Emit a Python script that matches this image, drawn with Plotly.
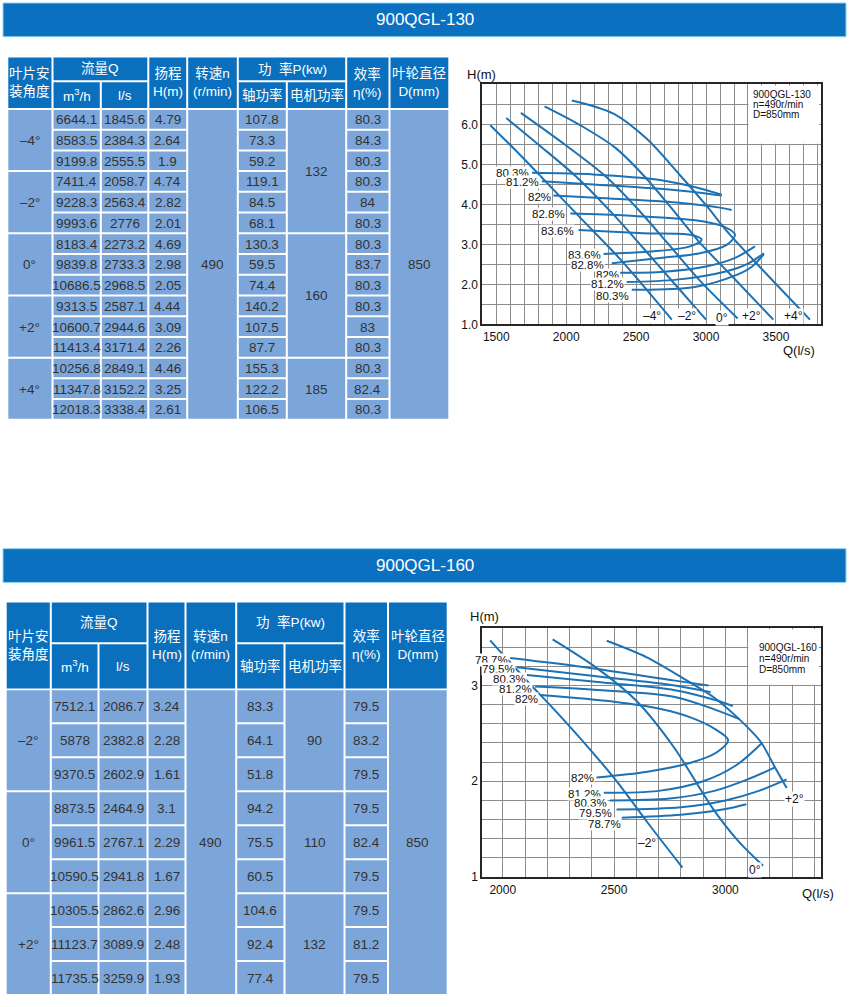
import plotly.graph_objects as go

FIG_W, FIG_H = 850, 1007

# ---------------- table data : 900QGL-130 ----------------
t1_title = "900QGL-130"
t1_angles = ["–4°", "–2°", "0°", "+2°", "+4°"]
t1_q_m3h = [6644.1, 8583.5, 9199.8, 7411.4, 9228.3, 9993.6, 8183.4, 9839.8, 10686.5,
            9313.5, 10600.7, 11413.4, 10256.8, 11347.8, 12018.3]
t1_q_ls = [1845.6, 2384.3, 2555.5, 2058.7, 2563.4, 2776, 2273.2, 2733.3, 2968.5,
           2587.1, 2944.6, 3171.4, 2849.1, 3152.2, 3338.4]
t1_head = [4.79, 2.64, 1.9, 4.74, 2.82, 2.01, 4.69, 2.98, 2.05, 4.44, 3.09, 2.26, 4.46, 3.25, 2.61]
t1_shaft = [107.8, 73.3, 59.2, 119.1, 84.5, 68.1, 130.3, 59.5, 74.4, 140.2, 107.5, 87.7, 155.3, 122.2, 106.5]
t1_motor = [132, 160, 185]
t1_motor_rows = [6, 6, 3]
t1_eff = [80.3, 84.3, 80.3, 80.3, 84, 80.3, 80.3, 83.7, 80.3, 80.3, 83, 80.3, 80.3, 82.4, 80.3]
t1_speed = 490
t1_diam = 850

# ---------------- table data : 900QGL-160 ----------------
t2_title = "900QGL-160"
t2_angles = ["–2°", "0°", "+2°"]
t2_q_m3h = [7512.1, 5878, 9370.5, 8873.5, 9961.5, 10590.5, 10305.5, 11123.7, 11735.5]
t2_q_ls = [2086.7, 2382.8, 2602.9, 2464.9, 2767.1, 2941.8, 2862.6, 3089.9, 3259.9]
t2_head = [3.24, 2.28, 1.61, 3.1, 2.29, 1.67, 2.96, 2.48, 1.93]
t2_shaft = [83.3, 64.1, 51.8, 94.2, 75.5, 60.5, 104.6, 92.4, 77.4]
t2_motor = [90, 110, 132]
t2_motor_rows = [3, 3, 3]
t2_eff = [79.5, 83.2, 79.5, 79.5, 82.4, 79.5, 79.5, 81.2, 79.5]
t2_speed = 490
t2_diam = 850

# header texts
hdr_angle = "叶片安<br>装角度"
hdr_flow = "流量Q"
hdr_m3h = "m<sup>3</sup>/h"
hdr_ls = "l/s"
hdr_head = "扬程<br>H(m)"
hdr_speed = "转速n<br>(r/min)"
hdr_power = "功\u00a0\u00a0率P(kw)"
hdr_shaft = "轴功率"
hdr_motor = "电机功率"
hdr_eff = "效率<br>η(%)"
hdr_diam = "叶轮直径<br>D(mm)"

# ---------------- chart 1 (900QGL-130) curves ----------------
c1_m4_q = [1457, 1650, 1802, 2100, 2384, 2555, 2755]
c1_m4_h = [5.98, 5.31, 4.76, 3.67, 2.64, 1.95, 1.12]
c1_m2_q = [1571, 1800, 2076, 2350, 2563, 2776, 3000]
c1_m2_h = [6.16, 5.50, 4.68, 3.70, 2.86, 2.01, 1.12]
c1_0_q = [1676, 1950, 2279, 2500, 2733, 2968, 3226]
c1_0_h = [6.29, 5.60, 4.71, 3.93, 3.00, 2.05, 1.15]
c1_p2_q = [1845, 2100, 2350, 2552, 2750, 2944, 3171, 3481]
c1_p2_h = [6.45, 5.98, 5.42, 4.73, 3.92, 3.09, 2.26, 1.12]
c1_p4_q = [2040, 2338, 2576, 2814, 3000, 3152, 3338, 3743]
c1_p4_h = [6.60, 6.27, 5.64, 4.73, 3.98, 3.32, 2.61, 1.12]

e1_803u_q = [1755, 2195, 2671, 2910, 3112]
e1_803u_h = [4.79, 4.75, 4.61, 4.44, 4.24]
e1_812u_q = [1826, 2195, 2671, 2957, 3112]
e1_812u_h = [4.58, 4.50, 4.39, 4.29, 4.22]
e1_82u_q = [1909, 2314, 2790, 3100, 3183]
e1_82u_h = [4.22, 4.15, 4.05, 3.92, 3.86]
e1_828_q = [2029, 2433, 2910, 3124, 3207, 3148, 2957, 2671, 2326]
e1_828_h = [3.77, 3.72, 3.61, 3.45, 3.24, 2.99, 2.78, 2.66, 2.53]
e1_836_q = [2088, 2552, 2886, 2969, 2886, 2671, 2267]
e1_836_h = [3.36, 3.28, 3.24, 3.12, 2.95, 2.84, 2.76]
e1_82l_q = [2386, 2700, 3000, 3200, 3350]
e1_82l_h = [2.29, 2.32, 2.45, 2.65, 2.95]
e1_812l_q = [2433, 2790, 3148, 3300, 3414]
e1_812l_h = [2.06, 2.12, 2.33, 2.52, 2.78]
e1_803l_q = [2469, 2910, 3219, 3330, 3414]
e1_803l_h = [1.87, 1.93, 2.24, 2.45, 2.76]

lab1_text = ["80.3%", "81.2%", "82%", "82.8%", "83.6%", "83.6%", "82.8%", "82%", "81.2%", "80.3%"]
lab1_q = [1616, 1689, 1809, 1873, 1939, 2130, 2154, 2296, 2296, 2332]
lab1_h = [4.79, 4.57, 4.19, 3.75, 3.34, 2.74, 2.49, 2.24, 2.01, 1.70]
ang1_text = ["–4°", "–2°", "0°", "+2°", "+4°"]
ang1_q = [2612, 2862, 3112, 3326, 3624]
ang1_h = [1.22, 1.22, 1.17, 1.22, 1.22]
info1 = ["900QGL-130", "n=490r/min", "D=850mm"]
yticks1 = [1, 2, 3, 4, 5, 6]

# ---------------- chart 2 (900QGL-160) curves ----------------
c2_m2_q = [1943, 2100, 2250, 2400, 2512, 2650, 2807]
c2_m2_h = [3.47, 3.07, 2.70, 2.31, 2.00, 1.57, 1.10]
c2_0_q = [2224, 2429, 2600, 2767, 2942, 3060, 3169]
c2_0_h = [3.48, 3.17, 2.84, 2.36, 1.72, 1.37, 1.12]
c2_p2_q = [2467, 2647, 2826, 2946, 3051, 3126, 3163, 3223, 3275]
c2_p2_h = [3.466, 3.293, 3.052, 2.879, 2.672, 2.50, 2.397, 2.145, 1.931]

e2_787u_q = [2033, 2400, 2773, 2924]
e2_787u_h = [3.285, 3.18, 3.05, 3.00]
e2_795u_q = [2063, 2400, 2773, 2934]
e2_795u_h = [3.19, 3.10, 3.00, 2.93]
e2_803u_q = [2108, 2450, 2773, 2950, 3033]
e2_803u_h = [3.11, 3.03, 2.95, 2.85, 2.786]
e2_812u_q = [2145, 2450, 2773, 2950, 3063]
e2_812u_h = [2.99, 2.95, 2.88, 2.75, 2.648]
e2_82_q = [2167, 2500, 2700, 2840, 2950, 3012, 2960, 2840, 2650, 2421]
e2_82_h = [2.90, 2.83, 2.76, 2.67, 2.55, 2.43, 2.30, 2.19, 2.10, 2.04]
e2_812l_q = [2454, 2700, 2900, 3050, 3163]
e2_812l_h = [1.88, 1.90, 2.00, 2.17, 2.397]
e2_803l_q = [2481, 2750, 2950, 3100, 3223]
e2_803l_h = [1.80, 1.82, 1.90, 2.02, 2.145]
e2_795l_q = [2511, 2800, 3000, 3150, 3275]
e2_795l_h = [1.706, 1.73, 1.80, 1.90, 2.02]
e2_787l_q = [2534, 2800, 3000, 3094]
e2_787l_h = [1.62, 1.65, 1.71, 1.76]

lab2_text = ["78.7%", "79.5%", "80.3%", "81.2%", "82%", "82%", "81.2%", "80.3%", "79.5%", "78.7%"]
lab2_q = [1951, 1980, 2028, 2055, 2108, 2357, 2365, 2395, 2418, 2456]
lab2_h = [3.265, 3.17, 3.07, 2.965, 2.854, 2.034, 1.87, 1.77, 1.665, 1.55]
ang2_text = ["–2°", "0°", "+2°"]
ang2_q = [2646, 3131, 3311]
ang2_h = [1.36, 1.07, 1.82]
info2 = ["900QGL-160", "n=490r/min", "D=850mm"]
yticks2 = [1, 2, 3]

# ---------------- styling ----------------
BANNER_BLUE = "#0a70bf"
HEADER_BLUE = "#0a6fbd"
BODY_BLUE = "#7ca6da"
CURVE = "#1c72b5"
GRID = "#8c8c8c"
FRAME = "#262626"
LATIN = "Liberation Sans, Arial, sans-serif"
CJK = "Liberation Sans, Noto Sans CJK SC, sans-serif"


def px(x):
    return x / FIG_W


def py(y):
    return 1 - y / FIG_H


def fmt(v):
    return "{:g}".format(v)


shapes = []
annos = []


def rect(x0, y0, x1, y1, color, line=None):
    d = dict(type="rect", xref="paper", yref="paper",
             x0=px(x0), x1=px(x1), y0=py(y1), y1=py(y0),
             fillcolor=color, layer="below")
    d["line"] = line if line else dict(width=0)
    shapes.append(d)


def text_at(x, y, text, size, color, family):
    annos.append(dict(xref="paper", yref="paper", x=px(x), y=py(y), text=text,
                      showarrow=False, xanchor="center", yanchor="middle",
                      font=dict(size=size, color=color, family=family)))


def banner(y0, y1, title):
    rect(3, y0, 846, y1, BANNER_BLUE, line=dict(color="#8fd3f2", width=1))
    text_at(425, (y0 + y1) / 2, title, 17, "white", LATIN)


header_cells = [(0, 1, 0, 2, hdr_angle), (1, 3, 0, 1, hdr_flow), (1, 2, 1, 2, hdr_m3h),
                (2, 3, 1, 2, hdr_ls), (3, 4, 0, 2, hdr_head), (4, 5, 0, 2, hdr_speed),
                (5, 7, 0, 1, hdr_power), (5, 6, 1, 2, hdr_shaft), (6, 7, 1, 2, hdr_motor),
                (7, 8, 0, 2, hdr_eff), (8, 9, 0, 2, hdr_diam)]


def table(col_edges, hdr_edges, body_top, row_h, angles, q_m3h, q_ls, head, shaft,
          motor, motor_rows, eff, speed, diam):
    g = 1.0
    for c0, c1, r0, r1, t in header_cells:
        x0, x1 = col_edges[c0] + g, col_edges[c1] - g
        y0, y1 = hdr_edges[r0] + g, hdr_edges[r1] - g
        rect(x0, y0, x1, y1, HEADER_BLUE)
        text_at((x0 + x1) / 2, (y0 + y1) / 2, t, 13.5, "white", CJK)
    n = len(q_ls)
    per_angle = n // len(angles)
    columns = [
        [(a, per_angle) for a in angles],
        [(fmt(v), 1) for v in q_m3h],
        [(fmt(v), 1) for v in q_ls],
        [(fmt(v), 1) for v in head],
        [(fmt(speed), n)],
        [(fmt(v), 1) for v in shaft],
        [(fmt(m), k) for m, k in zip(motor, motor_rows)],
        [(fmt(v), 1) for v in eff],
        [(fmt(diam), n)],
    ]
    for c, cells in enumerate(columns):
        r = 0
        for t, span in cells:
            x0, x1 = col_edges[c] + g, col_edges[c + 1] - g
            y0 = body_top + r * row_h + g
            y1 = body_top + (r + span) * row_h - g
            rect(x0, y0, x1, y1, BODY_BLUE)
            text_at((x0 + x1) / 2, (y0 + y1) / 2 + 0.5, t, 13.5, "#333333", LATIN)
            r += span


banner(3, 37, t1_title)
table([7.3, 52.5, 100.8, 148.3, 187.2, 237.8, 286.8, 346.2, 389.5, 449.3],
      [57.0, 81.7, 109.7], 109.7, 20.87,
      t1_angles, t1_q_m3h, t1_q_ls, t1_head, t1_shaft, t1_motor, t1_motor_rows,
      t1_eff, t1_speed, t1_diam)

banner(552.5, 586.5, t2_title)
table([5.7, 50.8, 98.5, 147.5, 185.5, 236.2, 284.5, 344.5, 388.0, 447.7],
      [605.7, 647.8, 694.2], 694.2, 34.2,
      t2_angles, t2_q_m3h, t2_q_ls, t2_head, t2_shaft, t2_motor, t2_motor_rows,
      t2_eff, t2_speed, t2_diam)

fig = go.Figure()


def curve(q, h, xa, ya):
    fig.add_trace(go.Scatter(x=q, y=h, xaxis=xa, yaxis=ya, mode="lines",
                             line=dict(color=CURVE, width=2, shape="spline", smoothing=0.9),
                             hoverinfo="skip", showlegend=False))


for q, h in [(c1_m4_q, c1_m4_h), (c1_m2_q, c1_m2_h), (c1_0_q, c1_0_h), (c1_p2_q, c1_p2_h),
             (c1_p4_q, c1_p4_h), (e1_803u_q, e1_803u_h), (e1_812u_q, e1_812u_h),
             (e1_82u_q, e1_82u_h), (e1_828_q, e1_828_h), (e1_836_q, e1_836_h),
             (e1_82l_q, e1_82l_h), (e1_812l_q, e1_812l_h), (e1_803l_q, e1_803l_h)]:
    curve(q, h, "x", "y")

for q, h in [(c2_m2_q, c2_m2_h), (c2_0_q, c2_0_h), (c2_p2_q, c2_p2_h),
             (e2_787u_q, e2_787u_h), (e2_795u_q, e2_795u_h), (e2_803u_q, e2_803u_h),
             (e2_812u_q, e2_812u_h), (e2_82_q, e2_82_h), (e2_812l_q, e2_812l_h),
             (e2_803l_q, e2_803l_h), (e2_795l_q, e2_795l_h), (e2_787l_q, e2_787l_h)]:
    curve(q, h, "x2", "y2")


def data_label(q, h, t, xr, yr, size=12):
    annos.append(dict(xref=xr, yref=yr, x=q, y=h, text=t, showarrow=False,
                      xanchor="center", yanchor="middle", bgcolor="white", borderpad=0,
                      font=dict(size=size, color="#111111", family=LATIN)))


for t, q, h in zip(lab1_text, lab1_q, lab1_h):
    data_label(q, h, t, "x", "y", 11.5)
for t, q, h in zip(ang1_text, ang1_q, ang1_h):
    data_label(q, h, t, "x", "y")
for t, q, h in zip(lab2_text, lab2_q, lab2_h):
    data_label(q, h, t, "x2", "y2", 11.5)
for t, q, h in zip(ang2_text, ang2_q, ang2_h):
    data_label(q, h, t, "x2", "y2")

# info boxes (blank grid cells top right)
shapes.append(dict(type="rect", xref="x", yref="y", x0=3304, x1=3810, y0=5.515, y1=6.97,
                   fillcolor="white", line=dict(width=0), layer="above"))
shapes.append(dict(type="rect", xref="x2", yref="y2", x0=3103, x1=3420, y0=3.006, y1=3.585,
                   fillcolor="white", line=dict(width=0), layer="above"))

for i, t in enumerate(info1):
    annos.append(dict(xref="paper", yref="paper", x=px(751), y=py(95 + 10 * i), text=t,
                      showarrow=False, xanchor="left", yanchor="middle",
                      font=dict(size=10, color="#111111", family=LATIN)))
for i, t in enumerate(info2):
    annos.append(dict(xref="paper", yref="paper", x=px(757), y=py(651.7 + 11 * i), text=t,
                      showarrow=False, xanchor="left", yanchor="middle",
                      font=dict(size=10, color="#111111", family=LATIN)))

# axis titles
text_at(482, 75, "H(m)", 13, "#111111", LATIN)
text_at(799, 352.7, "Q(l/s)", 13, "#111111", LATIN)
text_at(484, 621, "H(m)", 13, "#111111", LATIN)
text_at(818, 900, "Q(l/s)", 13, "#111111", LATIN)

axis_common = dict(showline=True, mirror=True, linecolor=FRAME, linewidth=2,
                   showgrid=True, gridcolor=GRID, gridwidth=1, zeroline=False,
                   ticks="", fixedrange=True,
                   tickfont=dict(size=12, color="#111111", family=LATIN))

fig.update_layout(
    width=FIG_W, height=FIG_H, margin=dict(l=0, r=0, t=0, b=0),
    paper_bgcolor="white", plot_bgcolor="white", showlegend=False,
    xaxis=dict(domain=[px(482.3), px(820.7)], range=[1400, 3820], anchor="y",
               tickmode="linear", tick0=1500, dtick=500,
               minor=dict(tick0=1400, dtick=100, showgrid=True, gridcolor=GRID, gridwidth=1),
               **axis_common),
    yaxis=dict(domain=[py(326.7), py(85)], range=[1, 7], anchor="x",
               tickmode="array", tickvals=yticks1, tickformat=".1f",
               minor=dict(tick0=1, dtick=0.5, showgrid=True, gridcolor=GRID, gridwidth=1),
               **axis_common),
    xaxis2=dict(domain=[px(482.3), px(820.7)], range=[1908, 3428], anchor="y2",
                tickmode="linear", tick0=2000, dtick=500,
                minor=dict(tick0=2000, dtick=100, showgrid=True, gridcolor=GRID, gridwidth=1),
                **axis_common),
    yaxis2=dict(domain=[py(883.3), py(632.3)], range=[1, 3.6], anchor="x2",
                tickmode="array", tickvals=yticks2, tickformat="d",
                minor=dict(tick0=1, dtick=0.2, showgrid=True, gridcolor=GRID, gridwidth=1),
                **axis_common),
    shapes=shapes, annotations=annos,
)

fig.write_html("out.html", config={"displayModeBar": False},
               post_script="document.body.style.margin='0';document.body.style.overflow='hidden';")
